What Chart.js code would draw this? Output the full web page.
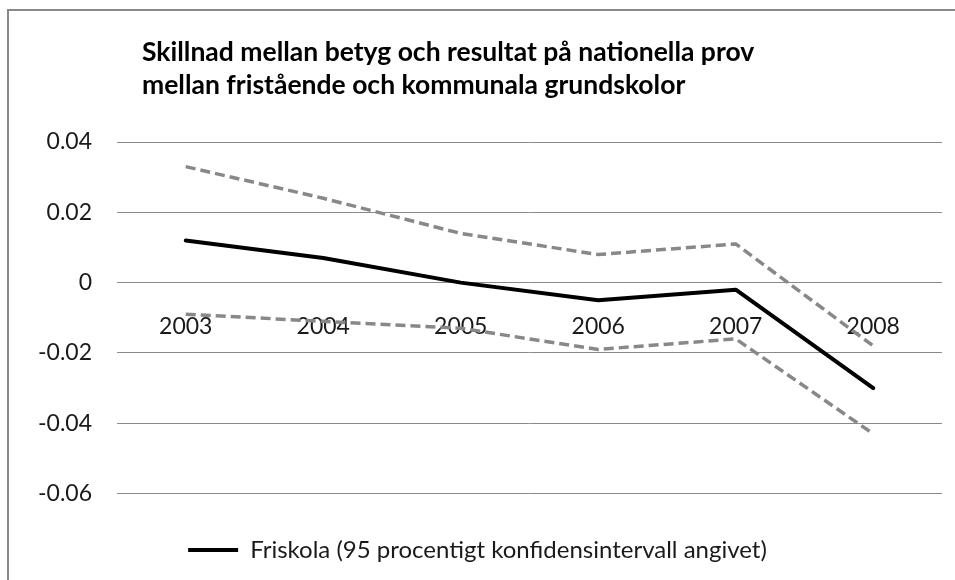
<!DOCTYPE html>
<html>
<head>
<meta charset="utf-8">
<script src="https://cdn.jsdelivr.net/npm/chart.js@4/dist/chart.umd.min.js"></script>
<style>
  html, body { margin: 0; padding: 0; background: #fff; overflow: hidden; }
  #wrap { position: relative; width: 955px; height: 580px; }
  #frame { position: absolute; left: 7px; top: 9px; width: 1000px; height: 700px;
           border-left: 2px solid #898989; border-top: 2px solid #898989; }
  canvas { position: absolute; left: 0; top: 0; }
</style>
</head>
<body>
<div id="wrap">
  <div id="frame"></div>
  <canvas id="chart" width="955" height="580"></canvas>
</div>
<script>
const titleLines = [
    'Skillnad mellan betyg och resultat på nationella prov',
    'mellan fristående och kommunala grundskolor'
];
const years = ['2003', '2004', '2005', '2006', '2007', '2008'];
const friskola = [0.012, 0.007, 0.000, -0.005, -0.002, -0.030];
const upperBound = [0.033, 0.024, 0.014, 0.008, 0.011, -0.018];
const lowerBound = [-0.009, -0.011, -0.013, -0.019, -0.016, -0.043];
const legendLabel = 'Friskola (95 procentigt konfidensintervall angivet)';

const FONT = 'Lato, "Open Sans", sans-serif';

// title is left aligned a bit inside the plot, like the Excel original
const titlePlugin = {
    id: 'leftTitle',
    afterDraw(chart) {
        const ctx = chart.ctx;
        ctx.save();
        ctx.fillStyle = '#000';
        ctx.font = 'bold 26.5px ' + FONT;
        ctx.textBaseline = 'alphabetic';
        ctx.textAlign = 'left';
        titleLines.forEach((t, i) => ctx.fillText(t, 142, 61 + i * 33));
        ctx.restore();
    }
};

new Chart(document.getElementById('chart'), {
    type: 'line',
    data: {
        labels: years,
        datasets: [
            { label: legendLabel, data: friskola, borderColor: '#000', backgroundColor: '#000',
              borderWidth: 4, pointRadius: 0, tension: 0, borderJoinStyle: 'round', borderCapStyle: 'round' },
            { label: 'Övre', data: upperBound, borderColor: '#888', borderWidth: 3.5, borderDash: [10, 5],
              pointRadius: 0, tension: 0, borderJoinStyle: 'round' },
            { label: 'Undre', data: lowerBound, borderColor: '#888', borderWidth: 3.5, borderDash: [10, 5],
              pointRadius: 0, tension: 0, borderJoinStyle: 'round' }
        ]
    },
    options: {
        responsive: false, animation: false,
        layout: { padding: { left: 13, right: 13, top: 142, bottom: 8 } },
        plugins: {
            tooltip: { enabled: false },
            title: { display: false },
            legend: {
                position: 'bottom',
                title: { display: true, text: '', font: { size: 12 }, padding: { top: 0, bottom: 20 } },
                labels: {
                    filter: item => item.datasetIndex === 0,
                    usePointStyle: true, pointStyle: 'line', pointStyleWidth: 50,
                    color: '#1a1a1a', font: { family: FONT, size: 24 }, padding: 10
                }
            }
        },
        scales: {
            x: {
                position: { y: 0 }, offset: true, z: 1,
                grid: { display: false, drawTicks: false },
                border: { display: false },
                ticks: { color: '#1a1a1a', font: { family: FONT, size: 23 }, padding: 30, maxRotation: 0 }
            },
            y: {
                min: -0.06, max: 0.04,
                grid: { color: '#8a8a8a', lineWidth: 1, drawTicks: false },
                border: { display: false },
                ticks: {
                    stepSize: 0.02, padding: 25, color: '#1a1a1a', font: { family: FONT, size: 23 },
                    callback: v => Math.abs(v) < 1e-9 ? '0' : v.toFixed(2)
                }
            }
        }
    },
    plugins: [titlePlugin]
});
</script>
</body>
</html>
